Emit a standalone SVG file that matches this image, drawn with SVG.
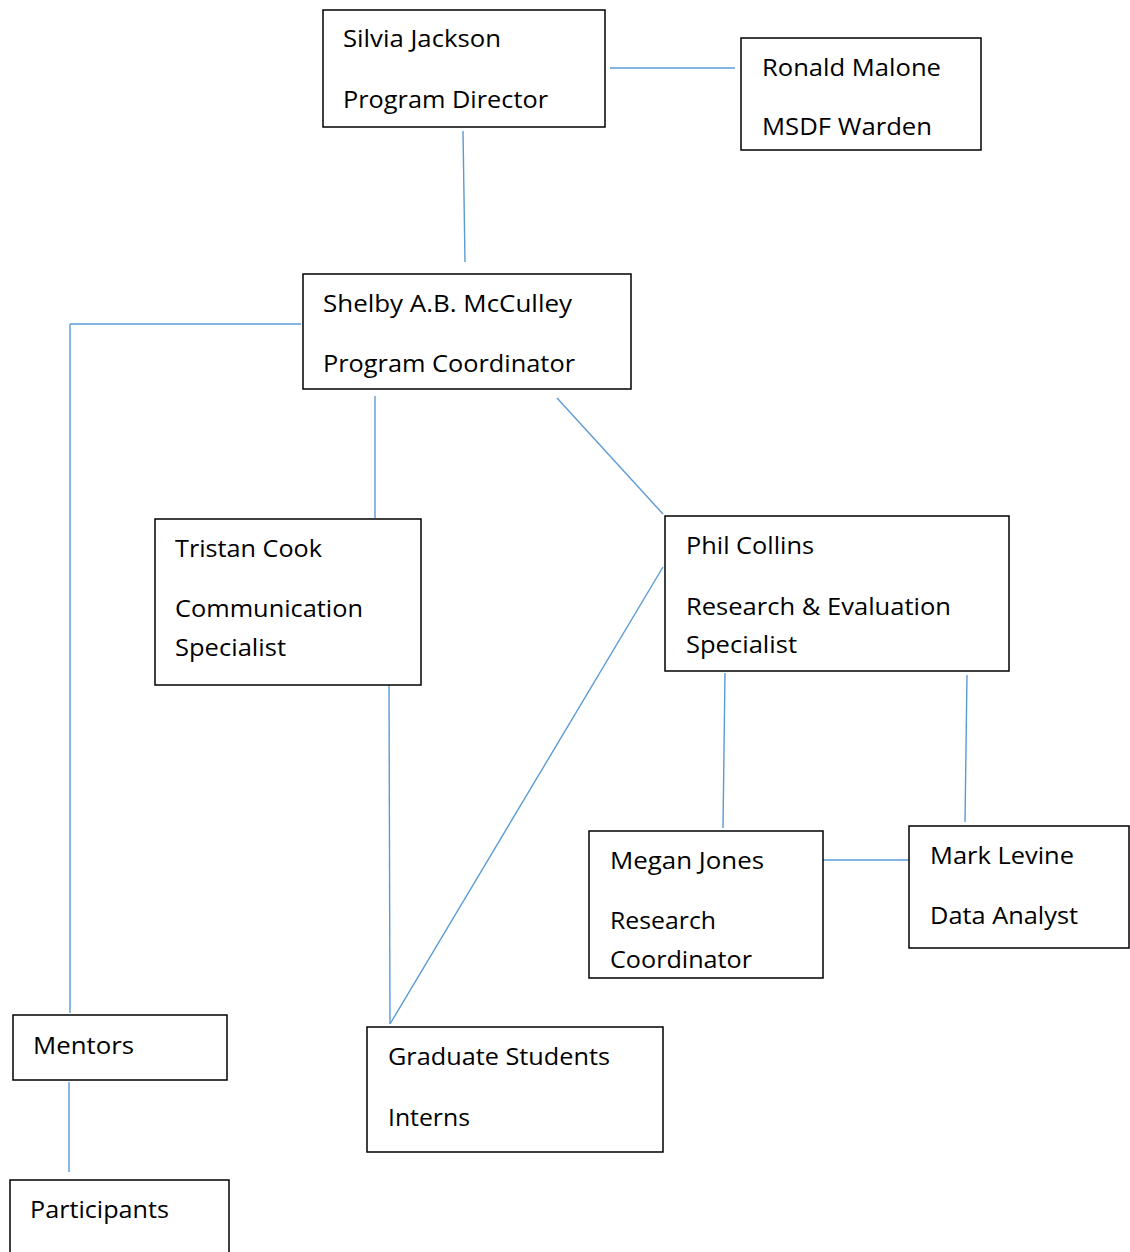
<svg xmlns="http://www.w3.org/2000/svg" width="1130" height="1252" viewBox="0 0 1130 1252">
<style>
.box{fill:#fff;stroke:#000;stroke-width:1.5}
text{font-family:"Open Sans","Noto Sans","Liberation Sans",sans-serif;font-size:23px;fill:#000}
.c line{stroke:#5B9BD5;stroke-width:1.4}
</style>
<rect width="1130" height="1252" fill="#fff"/>
<g class="c" id="connectors">
<line x1="610" y1="68" x2="735" y2="68"/>
<line x1="463" y1="131" x2="465" y2="262"/>
<line x1="70" y1="324" x2="301" y2="324"/>
<line x1="70" y1="324" x2="70" y2="1013"/>
<line x1="375" y1="396" x2="375" y2="518"/>
<line x1="557" y1="398" x2="663" y2="514"/>
<line x1="389" y1="682" x2="390" y2="1024"/>
<line x1="663" y1="567" x2="390" y2="1024"/>
<line x1="725" y1="673" x2="723" y2="828"/>
<line x1="967" y1="675" x2="965" y2="822"/>
<line x1="823" y1="860" x2="909" y2="860"/>
<line x1="69" y1="1082" x2="69" y2="1172"/>
</g>
<g id="silvia"><rect class="box" x="323" y="10" width="282" height="117"/>
<text x="343" y="47" textLength="158" lengthAdjust="spacingAndGlyphs">Silvia Jackson</text>
<text x="343" y="108" textLength="205" lengthAdjust="spacingAndGlyphs">Program Director</text></g>
<g id="ronald"><rect class="box" x="741" y="38" width="240" height="112"/>
<text x="762" y="76" textLength="179" lengthAdjust="spacingAndGlyphs">Ronald Malone</text>
<text x="762" y="135" textLength="170" lengthAdjust="spacingAndGlyphs">MSDF Warden</text></g>
<g id="shelby"><rect class="box" x="303" y="274" width="328" height="115"/>
<text x="323" y="312" textLength="249" lengthAdjust="spacingAndGlyphs">Shelby A.B. McCulley</text>
<text x="323" y="372" textLength="252" lengthAdjust="spacingAndGlyphs">Program Coordinator</text></g>
<g id="tristan"><rect class="box" x="155" y="519" width="266" height="166"/>
<text x="175" y="557" textLength="147" lengthAdjust="spacingAndGlyphs">Tristan Cook</text>
<text x="175" y="617" textLength="188" lengthAdjust="spacingAndGlyphs">Communication</text>
<text x="175" y="656" textLength="111" lengthAdjust="spacingAndGlyphs">Specialist</text></g>
<g id="phil"><rect class="box" x="665" y="516" width="344" height="155"/>
<text x="686" y="554" textLength="128" lengthAdjust="spacingAndGlyphs">Phil Collins</text>
<text x="686" y="615" textLength="265" lengthAdjust="spacingAndGlyphs">Research &amp; Evaluation</text>
<text x="686" y="653" textLength="111" lengthAdjust="spacingAndGlyphs">Specialist</text></g>
<g id="megan"><rect class="box" x="589" y="831" width="234" height="147"/>
<text x="610" y="869" textLength="154" lengthAdjust="spacingAndGlyphs">Megan Jones</text>
<text x="610" y="929" textLength="106" lengthAdjust="spacingAndGlyphs">Research</text>
<text x="610" y="968" textLength="142" lengthAdjust="spacingAndGlyphs">Coordinator</text></g>
<g id="mark"><rect class="box" x="909" y="826" width="220" height="122"/>
<text x="930" y="864" textLength="144" lengthAdjust="spacingAndGlyphs">Mark Levine</text>
<text x="930" y="924" textLength="148" lengthAdjust="spacingAndGlyphs">Data Analyst</text></g>
<g id="mentors"><rect class="box" x="13" y="1015" width="214" height="65"/>
<text x="33" y="1054" textLength="101" lengthAdjust="spacingAndGlyphs">Mentors</text></g>
<g id="grad"><rect class="box" x="367" y="1027" width="296" height="125"/>
<text x="388" y="1065" textLength="222" lengthAdjust="spacingAndGlyphs">Graduate Students</text>
<text x="388" y="1126" textLength="82" lengthAdjust="spacingAndGlyphs">Interns</text></g>
<g id="participants"><rect class="box" x="10" y="1180" width="219" height="90"/>
<text x="30" y="1218" textLength="139" lengthAdjust="spacingAndGlyphs">Participants</text></g>
</svg>
